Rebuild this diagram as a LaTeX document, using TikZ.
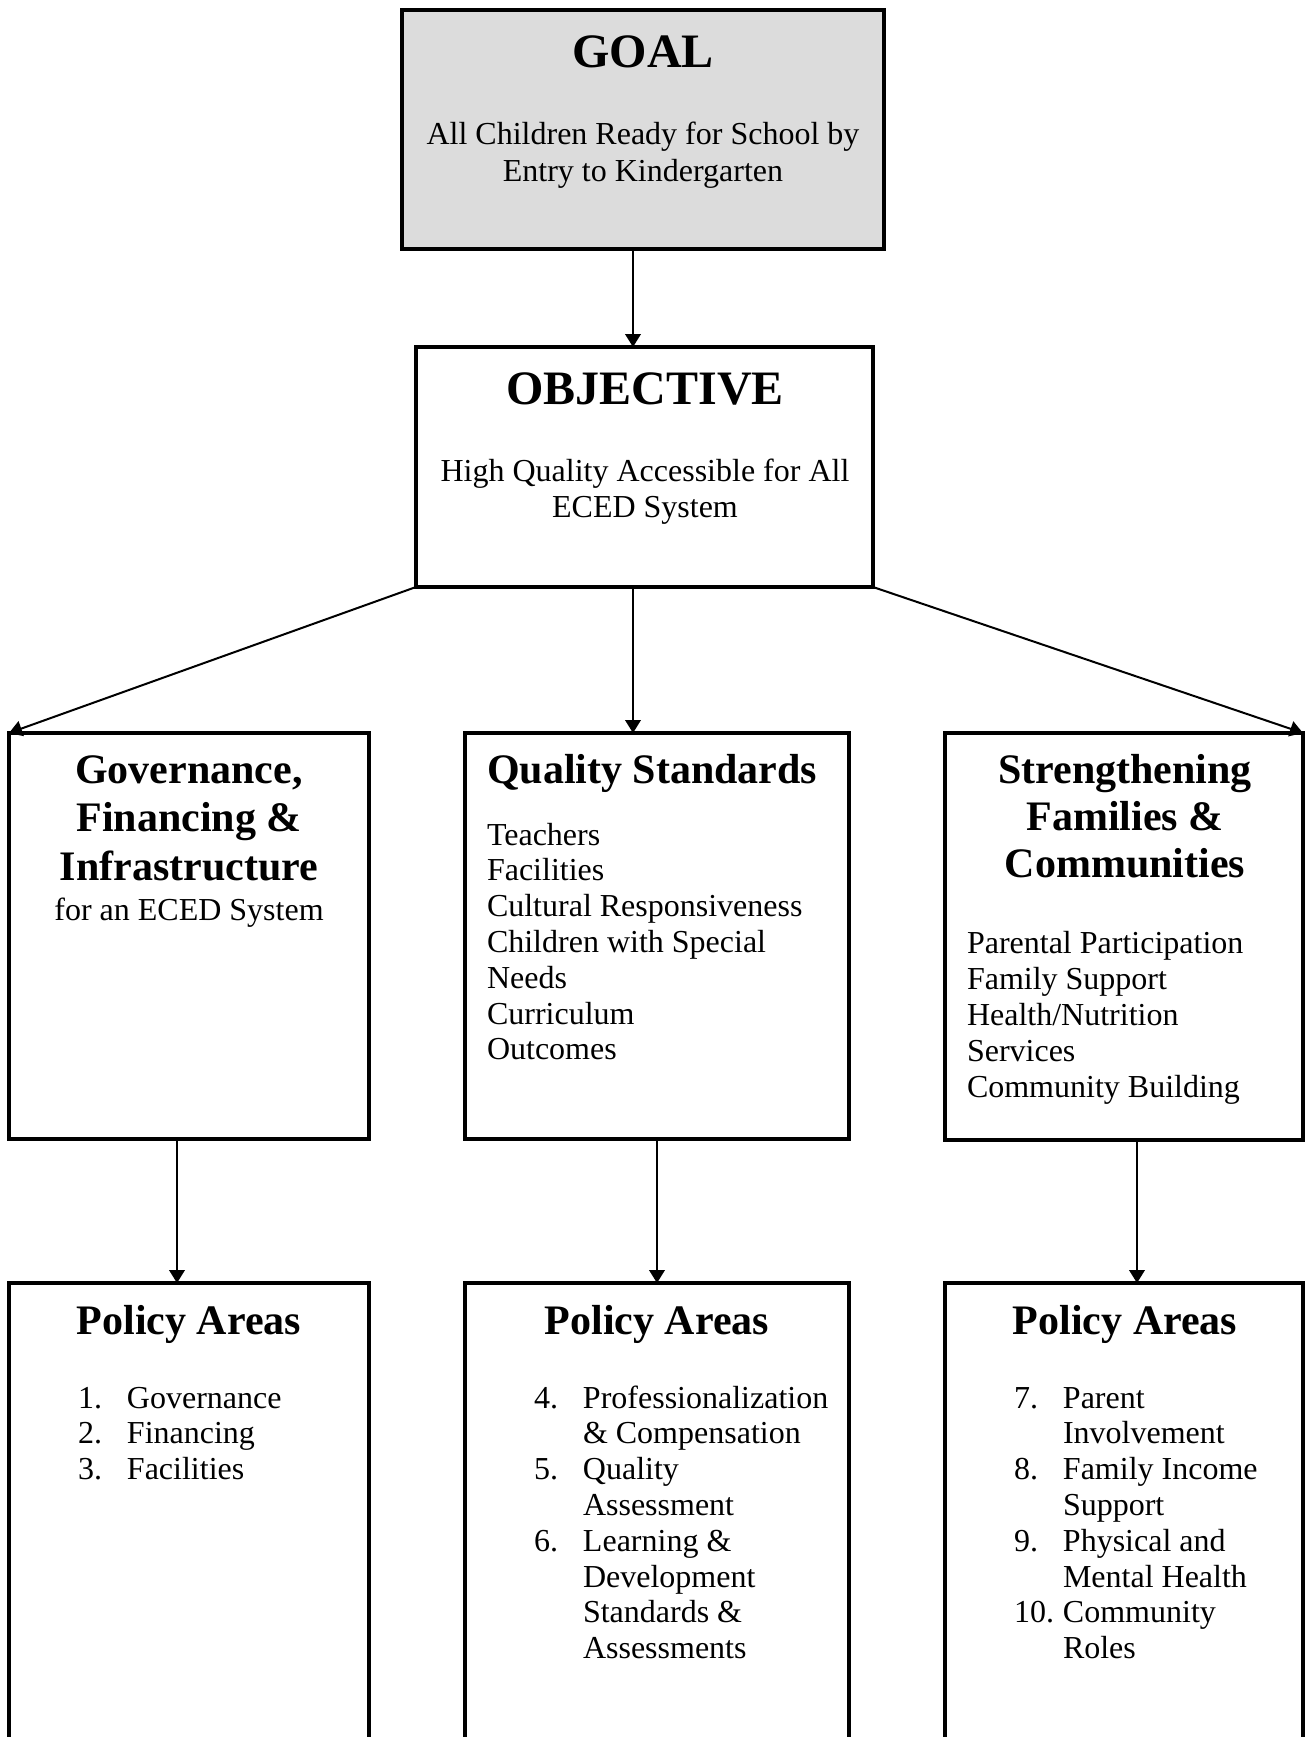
\documentclass[tikz,border=0pt]{standalone}
\usepackage{fontspec}
\setmainfont{Liberation Serif}
\usetikzlibrary{arrows.meta}
\definecolor{goalgray}{RGB}{220,220,220}
\newcommand{\mybigtitle}{\fontsize{24pt}{28pt}\selectfont\bfseries}
\newcommand{\mytitle}{\fontsize{21pt}{24.25pt}\selectfont\bfseries}
\newcommand{\mybody}{\fontsize{16pt}{17.9pt}\selectfont}
\newcommand{\num}[1]{\makebox[24.5pt][l]{#1}}
\begin{document}
\begin{tikzpicture}[x=0.5pt,y=-0.5pt,
  box/.style={draw,line width=1.65pt,rectangle,outer sep=0pt,inner sep=0pt,anchor=north west,fill=white},
  arr/.style={line width=1pt,-{Triangle[width=7.8pt,length=6.5pt]}},
  txt/.style={inner sep=0pt,outer sep=0pt}]
\useasboundingbox (0,0) rectangle (1308,1737);
\clip (0,0) rectangle (1308,1737);
\fill[white] (0,0) rectangle (1308,1737);

% boxes
\node[box,fill=goalgray,minimum width=241pt,minimum height=119.5pt] (goal) at (402,10) {};
\node[box,minimum width=228.5pt,minimum height=120pt] (obj) at (416,347) {};
\node[box,minimum width=180pt,minimum height=203pt] (gov) at (9,733) {};
\node[box,minimum width=192pt,minimum height=203pt] (qs) at (465,733) {};
\node[box,minimum width=179pt,minimum height=203.5pt] (sf) at (945,733) {};
\node[box,minimum width=180pt,minimum height=260pt] (pa1) at (9,1283) {};
\node[box,minimum width=192pt,minimum height=260pt] (pa2) at (465,1283) {};
\node[box,minimum width=179pt,minimum height=260pt] (pa3) at (945,1283) {};

% connector x positions
\coordinate (cx) at (633,0);
\coordinate (c1) at (177,0);
\coordinate (c2) at (657,0);
\coordinate (c3) at (1137,0);

% connectors
\draw[arr] (goal.south -| cx) -- (obj.north -| cx);
\draw[arr] (obj.south west) -- (gov.north west);
\draw[arr] (obj.south -| cx) -- (qs.north -| cx);
\draw[arr] (obj.south east) -- (sf.north east);
\draw[arr] (gov.south -| c1) -- (pa1.north -| c1);
\draw[arr] (qs.south -| c2) -- (pa2.north -| c2);
\draw[arr] (sf.south -| c3) -- (pa3.north -| c3);

% goal
\node[txt,anchor=base,font=\mybigtitle] (goalt) at (643,67) {GOAL};
\node[txt,anchor=base,font={\fontsize{16pt}{18.85pt}\selectfont}] (goalb) at (643,144)
  {\begin{tabular}[t]{@{}c@{}}All Children Ready for School by\\Entry to Kindergarten\end{tabular}};

% objective
\node[txt,anchor=base,font=\mybigtitle] (objt) at (645,404) {OBJECTIVE};
\node[txt,anchor=base,font={\fontsize{16pt}{18pt}\selectfont}] (objb) at (645,481)
  {\begin{tabular}[t]{@{}c@{}}High Quality Accessible for All\\ECED System\end{tabular}};

% governance
\node[txt,anchor=base,font=\mytitle] (govt) at (189,783)
  {\begin{tabular}[t]{@{}c@{}}Governance,\\Financing \&\\Infrastructure\end{tabular}};
\node[txt,anchor=base,font=\mybody] (govb) at (189,920) {for an ECED System};

% quality standards
\node[txt,anchor=base west,font=\mytitle] (qst) at (487,783) {Quality Standards};
\node[txt,anchor=base west,font=\mybody] (qsb) at (487,845)
  {\begin{tabular}[t]{@{}l@{}}Teachers\\Facilities\\Cultural Responsiveness\\Children with Special\\Needs\\Curriculum\\Outcomes\end{tabular}};

% strengthening families
\node[txt,anchor=base,font={\fontsize{21pt}{23.5pt}\selectfont\bfseries}] (sft) at (1125,783)
  {\begin{tabular}[t]{@{}c@{}}Strengthening\\Families \&\\Communities\end{tabular}};
\node[txt,anchor=base west,font={\fontsize{16pt}{18.1pt}\selectfont}] (sfb) at (967,953)
  {\begin{tabular}[t]{@{}l@{}}Parental Participation\\Family Support\\Health/Nutrition\\Services\\Community Building\end{tabular}};

% policy areas
\node[txt,anchor=base,font=\mytitle] (pa1t) at (189,1334) {Policy Areas};
\node[txt,anchor=base,font=\mytitle] (pa2t) at (657,1334) {Policy Areas};
\node[txt,anchor=base,font=\mytitle] (pa3t) at (1125,1334) {Policy Areas};

\node[txt,anchor=base west,font=\mybody] (pa1b) at (78,1408)
  {\begin{tabular}[t]{@{}l@{}l@{}}\num{1.}&Governance\\\num{2.}&Financing\\\num{3.}&Facilities\end{tabular}};
\node[txt,anchor=base west,font=\mybody] (pa2b) at (534,1408)
  {\begin{tabular}[t]{@{}l@{}l@{}}\num{4.}&Professionalization\\&\& Compensation\\\num{5.}&Quality\\&Assessment\\\num{6.}&Learning \&\\&Development\\&Standards \&\\&Assessments\end{tabular}};
\node[txt,anchor=base west,font=\mybody] (pa3b) at (1014,1408)
  {\begin{tabular}[t]{@{}l@{}l@{}}\num{7.}&Parent\\&Involvement\\\num{8.}&Family Income\\&Support\\\num{9.}&Physical and\\&Mental Health\\\num{10.}&Community\\&Roles\end{tabular}};
\end{tikzpicture}
\end{document}
